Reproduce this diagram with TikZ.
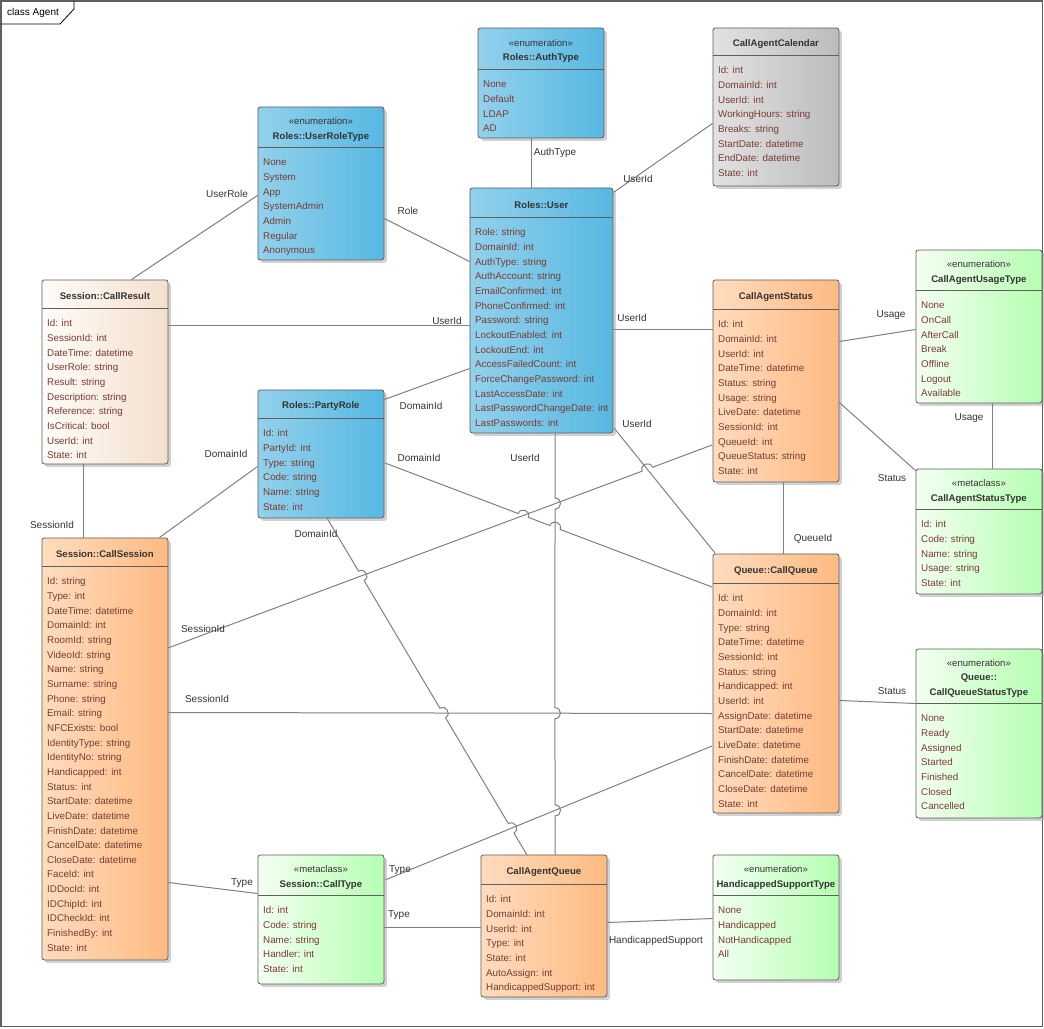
\documentclass[tikz,border=0pt]{standalone}
\usepackage{fontspec}
\setmainfont{Liberation Sans}
\usepackage{xcolor}
\usetikzlibrary{calc, positioning, shadows}
\definecolor{framegray}{HTML}{5F5F5F}
\definecolor{linegray}{HTML}{808080}
\definecolor{itemred}{HTML}{7A3B32}
\definecolor{titledark}{HTML}{333333}
\tikzset{
  classbox/.style={draw=framegray, line width=.8pt, rounded corners=2.5pt, anchor=north west, inner sep=0pt,
    drop shadow={shadow xshift=3pt, shadow yshift=-3pt, fill=black!40, opacity=.45}},
  bluebox/.style={left color={rgb,255:red,146;green,209;blue,236}, right color={rgb,255:red,87;green,184;blue,226}},
  orangebox/.style={left color={rgb,255:red,255;green,220;blue,190}, right color={rgb,255:red,254;green,186;blue,130}},
  greenbox/.style={left color={rgb,255:red,244;green,255;blue,242}, right color={rgb,255:red,182;green,255;blue,178}},
  creambox/.style={left color={rgb,255:red,255;green,252;blue,248}, right color={rgb,255:red,243;green,224;blue,206}},
  graybox/.style={left color={rgb,255:red,226;green,226;blue,226}, right color={rgb,255:red,188;green,188;blue,188}},
  headtext/.style={align=center, inner sep=0pt, text=titledark, font=\fontsize{9.6}{14.6}\selectfont},
  bodytext/.style={align=left, inner sep=0pt, anchor=north west, text=itemred, font=\fontsize{9.8}{14.65}\selectfont},
  divider/.style={draw=framegray, line width=.8pt},
  link/.style={draw=linegray, line width=1pt},
  lbl/.style={inner sep=0pt, text=titledark, font=\fontsize{10}{12}\selectfont},
}
% #1 name, #2 x, #3 y, #4 width, #5 height, #6 head height, #7 colour, #8 head, #9 items
\newcommand{\classnode}[9]{
  \node[classbox, #7, minimum width=#4pt, minimum height=#5pt] (#1) at (#2-.5,#3-.5) {};
  \draw[divider] ([yshift=-#6pt]#1.north west) -- ([yshift=-#6pt]#1.north east);
  \node[headtext] (#1head) at ($(#1.north)+(0,#6/2+2.5)$) {#8};
  \node[bodytext] (#1body) at ($(#1.north west)+(5.5,#6+8)$) {\strut#9};
}
\newcommand{\hopover}[3]{-- ($(#2)!5.5pt!(#1)$) to[bend left=90, looseness=1.7] ($(#2)!5.5pt!(#3)$)}
\newcommand{\enumhead}[1]{«enumeration»\\\textbf{#1}}
\newcommand{\metahead}[1]{«metaclass»\\\textbf{#1}}
\newcommand{\plainhead}[1]{\raisebox{-3pt}{\textbf{#1}}}

\begin{document}
\begin{tikzpicture}[x=1pt,y=-1pt]
  \useasboundingbox (0,0) rectangle (1044,1028);
  \draw[framegray, line width=1.6pt] (1,1) rectangle (1042.5,1026.5);
  \node[inner sep=0pt, anchor=west, font=\fontsize{10}{12}\selectfont] (frametitle) at (7,12.5) {class Agent};
  \draw[black, line width=.8pt] (1,24) -- (60,24) -- (74,9) -- (74,1);

  % links first, boxes on top
  \coordinate (ua) at (555,433);
  \coordinate (ub) at (555,855);
  \coordinate (sa) at (168,648);
  \coordinate (sb) at (712,445);
  \coordinate (qa) at (614,428);
  \coordinate (qb) at (715,553);
  \coordinate (pa) at (385,463);
  \coordinate (pb) at (712,587);
  \coordinate (da) at (327,518);
  \coordinate (db) at (527,855);
  \coordinate (ta) at (385,880);
  \coordinate (tb) at (712,746);
  \coordinate (ha) at (168,712.5);
  \coordinate (hb) at (712,713.5);
  \coordinate (xsq) at (intersection of sa--sb and qa--qb);
  \coordinate (xus) at (intersection of ua--ub and sa--sb);
  \coordinate (xup) at (intersection of ua--ub and pa--pb);
  \coordinate (xuh) at (intersection of ua--ub and ha--hb);
  \coordinate (xut) at (intersection of ua--ub and ta--tb);
  \coordinate (xps) at (intersection of pa--pb and sa--sb);
  \coordinate (xds) at (intersection of da--db and sa--sb);
  \coordinate (xdh) at (intersection of da--db and ha--hb);
  \coordinate (xdt) at (intersection of da--db and ta--tb);

  \draw[link] (ua) \hopover{ua}{xus}{ub} \hopover{xus}{xuh}{ub} \hopover{xuh}{xut}{ub} -- (ub);
  \draw[link] (sa) \hopover{sa}{xsq}{sb} -- (sb);
  \draw[link] (pa) \hopover{pa}{xps}{pb} \hopover{xps}{xup}{pb} -- (pb);
  \draw[link] (da) \hopover{da}{xds}{db} \hopover{xds}{xdh}{db} \hopover{xdh}{xdt}{db} -- (db);
  \draw[link] (qa) -- (qb);
  \draw[link] (ha) -- (hb);
  \draw[link] (ta) -- (tb);

  \classnode{roletype}{258}{107}{126}{153}{41}{bluebox}{\enumhead{Roles::UserRoleType}}{None\\System\\App\\SystemAdmin\\Admin\\Regular\\Anonymous}
  \classnode{authtype}{478}{28}{126}{110}{42}{bluebox}{\enumhead{Roles::AuthType}}{None\\Default\\LDAP\\AD}
  \classnode{calendar}{713}{28}{126}{158}{28}{graybox}{\plainhead{CallAgentCalendar}}{Id: int\\DomainId: int\\UserId: int\\WorkingHours: string\\Breaks: string\\StartDate: datetime\\EndDate: datetime\\State: int}
  \classnode{user}{470}{188}{143}{245}{30}{bluebox}{\plainhead{Roles::User}}{Role: string\\DomainId: int\\AuthType: string\\AuthAccount: string\\EmailConfirmed: int\\PhoneConfirmed: int\\Password: string\\LockoutEnabled: int\\LockoutEnd: int\\AccessFailedCount: int\\ForceChangePassword: int\\LastAccessDate: int\\LastPasswordChangeDate: int\\LastPasswords: int}
  \classnode{result}{42}{280}{126}{184}{29}{creambox}{\plainhead{Session::CallResult}}{Id: int\\SessionId: int\\DateTime: datetime\\UserRole: string\\Result: string\\Description: string\\Reference: string\\IsCritical: bool\\UserId: int\\State: int}
  \classnode{party}{258}{390}{126}{128}{29}{bluebox}{\plainhead{Roles::PartyRole}}{Id: int\\PartyId: int\\Type: string\\Code: string\\Name: string\\State: int}
  \classnode{status}{713}{280}{126}{202}{30}{orangebox}{\plainhead{CallAgentStatus}}{Id: int\\DomainId: int\\UserId: int\\DateTime: datetime\\Status: string\\Usage: string\\LiveDate: datetime\\SessionId: int\\QueueId: int\\QueueStatus: string\\State: int}
  \classnode{usagetype}{916}{250}{126}{153}{41}{greenbox}{\enumhead{CallAgentUsageType}}{None\\OnCall\\AfterCall\\Break\\Offline\\Logout\\Available}
  \classnode{statustype}{916}{469}{126}{125}{41}{greenbox}{\metahead{CallAgentStatusType}}{Id: int\\Code: string\\Name: string\\Usage: string\\State: int}
  \classnode{session}{42}{538}{126}{422}{29}{orangebox}{\plainhead{Session::CallSession}}{Id: string\\Type: int\\DateTime: datetime\\DomainId: int\\RoomId: string\\VideoId: string\\Name: string\\Surname: string\\Phone: string\\Email: string\\NFCExists: bool\\IdentityType: string\\IdentityNo: string\\Handicapped: int\\Status: int\\StartDate: datetime\\LiveDate: datetime\\FinishDate: datetime\\CancelDate: datetime\\CloseDate: datetime\\FaceId: int\\IDDocId: int\\IDChipId: int\\IDCheckId: int\\FinishedBy: int\\State: int}
  \classnode{queue}{713}{554}{126}{259}{30}{orangebox}{\plainhead{Queue::CallQueue}}{Id: int\\DomainId: int\\Type: string\\DateTime: datetime\\SessionId: int\\Status: string\\Handicapped: int\\UserId: int\\AssignDate: datetime\\StartDate: datetime\\LiveDate: datetime\\FinishDate: datetime\\CancelDate: datetime\\CloseDate: datetime\\State: int}
  \classnode{queuestatus}{916}{649}{126}{169}{55}{greenbox}{«enumeration»\\\textbf{Queue::}\\\textbf{CallQueueStatusType}}{None\\Ready\\Assigned\\Started\\Finished\\Closed\\Cancelled}
  \classnode{calltype}{258}{855}{126}{129}{41}{greenbox}{\metahead{Session::CallType}}{Id: int\\Code: string\\Name: string\\Handler: int\\State: int}
  \classnode{agentqueue}{481}{855}{126}{142}{30}{orangebox}{\plainhead{CallAgentQueue}}{Id: int\\DomainId: int\\UserId: int\\Type: int\\State: int\\AutoAssign: int\\HandicappedSupport: int}
  \classnode{handicap}{713}{855}{126}{125}{41}{greenbox}{\enumhead{HandicappedSupportType}}{None\\Handicapped\\NotHandicapped\\All}

  \draw[link] ([yshift=-89pt]roletype.north west) -- ([xshift=90pt]result.north west);
  \draw[link] ([yshift=-112pt]roletype.north east) -- ([yshift=-74pt]user.north west);
  \draw[link] ([xshift=54pt]authtype.south west) -- ([xshift=62pt]user.north west);
  \draw[link] ([yshift=-96pt]calendar.north west) -- ([yshift=-5pt]user.north east);
  \draw[link] ([yshift=-46pt]result.north east) -- ([yshift=-138pt]user.north west);
  \draw[link] ([yshift=-142pt]user.north east) -- ([yshift=-50pt]status.north west);
  \draw[link] ([yshift=-181pt]user.north west) -- ([yshift=-10pt]party.north east);
  \draw[link] ([yshift=-77pt]party.north west) -- ([xshift=118pt]session.north west);
  \draw[link] ([xshift=42pt]result.south west) -- ([xshift=42pt]session.north west);
  \draw[link] ([yshift=-345pt]session.north east) -- ([yshift=-39pt]calltype.north west);
  \draw[link] ([yshift=-73pt]calltype.north east) -- ([yshift=-73pt]agentqueue.north west);
  \draw[link] ([yshift=-68pt]agentqueue.north east) -- ([yshift=-64pt]handicap.north west);
  \draw[link] ([yshift=-62pt]status.north east) -- ([yshift=-80pt]usagetype.north west);
  \draw[link] ([yshift=-123pt]status.north east) -- ([yshift=-2pt]statustype.north west);
  \draw[link] ([xshift=77pt]usagetype.south west) -- ([xshift=77pt]statustype.north west);
  \draw[link] ([xshift=71pt]status.south west) -- ([xshift=71pt]queue.north west);
  \draw[link] ([yshift=-147pt]queue.north east) -- ([yshift=-55pt]queuestatus.north west);

  \node[lbl] (lbuserrole) at (227,193.5) {UserRole};
  \node[lbl] (lbrole) at (408,210.5) {Role};
  \node[lbl] (lbauthtype) at (555,152.5) {AuthType};
  \node[lbl] (lbcaluser) at (638,178.5) {UserId};
  \node[lbl] (lbresuser) at (447,320.5) {UserId};
  \node[lbl] (lbstatuser) at (632,317.5) {UserId};
  \node[lbl] (lbqueuser) at (637,423.5) {UserId};
  \node[lbl] (lbcaqueuser) at (525,457.5) {UserId};
  \node[lbl] (lbpartydom) at (421,405.5) {DomainId};
  \node[lbl] (lbquedom) at (419,457.5) {DomainId};
  \node[lbl] (lbsesdom) at (226,453.5) {DomainId};
  \node[lbl] (lbcaqdom) at (316,533.5) {DomainId};
  \node[lbl] (lbresses) at (52,524.5) {SessionId};
  \node[lbl] (lbstatses) at (203,628.5) {SessionId};
  \node[lbl] (lbqueses) at (207,698.5) {SessionId};
  \node[lbl] (lbtypeses) at (242,883.5) {Type};
  \node[lbl] (lbtypeque) at (400,870.5) {Type};
  \node[lbl] (lbtypecaq) at (399,915.5) {Type};
  \node[lbl] (lbhandi) at (656,940.5) {HandicappedSupport};
  \node[lbl] (lbusage) at (891,315.5) {Usage};
  \node[lbl] (lbusageb) at (969,418.5) {Usage};
  \node[lbl] (lbstatus) at (892,478.5) {Status};
  \node[lbl] (lbstatusq) at (892,691.5) {Status};
  \node[lbl] (lbqueueid) at (813,538.5) {QueueId};
\end{tikzpicture}
\end{document}
